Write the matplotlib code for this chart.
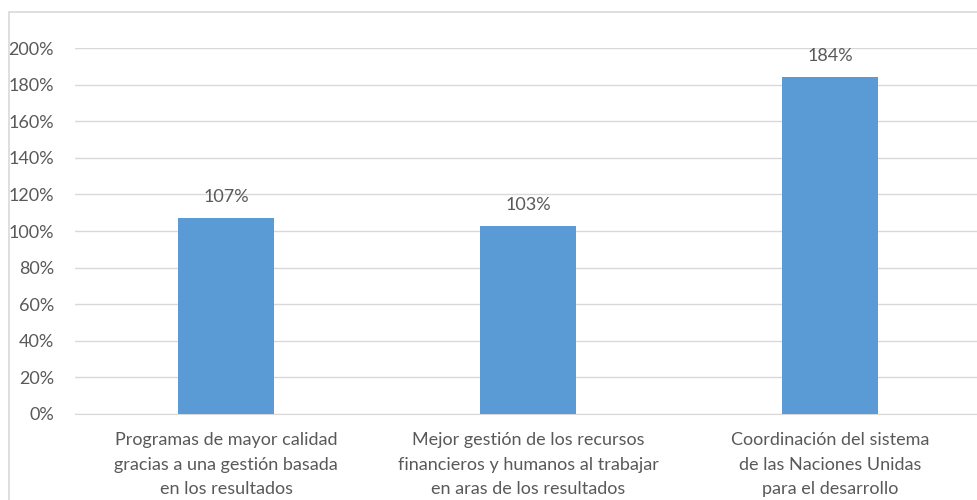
import matplotlib.pyplot as plt
from matplotlib.patches import Rectangle
from matplotlib.ticker import FuncFormatter

# Datos del gráfico
categorias = [
    "Programas de mayor calidad\ngracias a una gestión basada\nen los resultados",
    "Mejor gestión de los recursos\nfinancieros y humanos al trabajar\nen aras de los resultados",
    "Coordinación del sistema\nde las Naciones Unidas\npara el desarrollo",
]
valores = [1.07, 1.03, 1.84]
etiquetas = ["107%", "103%", "184%"]

gris = "#595959"
plt.rcParams['font.family'] = ['Lato', 'DejaVu Sans']

fig = plt.figure(figsize=(9.77, 5.0), dpi=100)
# borde del área del gráfico
fig.patches.append(Rectangle((9 / 977, -0.05), 1.1, (500 - 12) / 500 + 0.05,
                             transform=fig.transFigure, fill=False,
                             edgecolor="#D9D9D9", linewidth=1.2))

ax = fig.add_axes([75 / 977, 86 / 500, 906 / 977, 366 / 500])
x = range(len(valores))
ax.bar(x, valores, width=0.315, color="#5B9BD5", zorder=3)

for xi, v, t in zip(x, valores, etiquetas):
    ax.text(xi, v + 0.07, t, ha="center", va="bottom", fontsize=13, color=gris)

ax.set_xlim(-0.5, 2.5)
ax.set_ylim(0, 2.0)
ax.set_yticks([i / 5 for i in range(11)])
ax.yaxis.set_major_formatter(FuncFormatter(lambda v, p: f"{v * 100:.0f}%"))
ax.set_xticks(list(x))
ax.set_xticklabels(categorias, fontsize=13, color=gris, linespacing=1.65)
ax.tick_params(axis="y", labelsize=13, labelcolor=gris, length=0, pad=15)
ax.tick_params(axis="x", length=0, pad=13)
ax.grid(axis="y", color="#D9D9D9", linewidth=1, zorder=0)
for s in ["top", "right", "left"]:
    ax.spines[s].set_visible(False)
ax.spines["bottom"].set_color("#D9D9D9")

fig.savefig("out.png", dpi=100)
